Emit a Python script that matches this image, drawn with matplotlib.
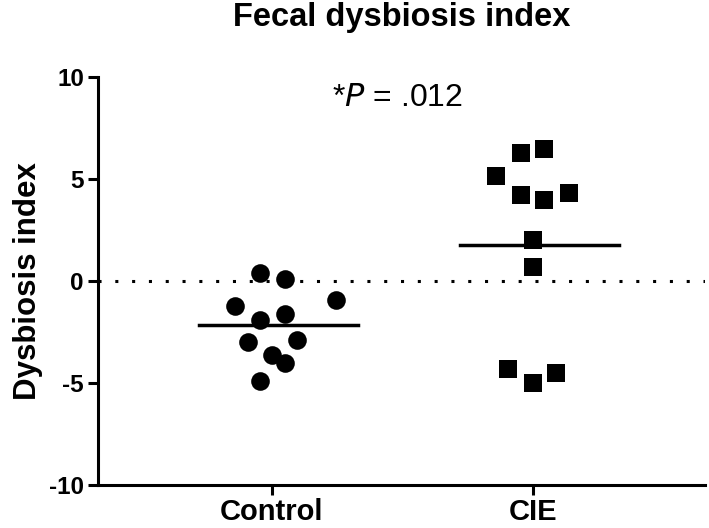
import matplotlib

matplotlib.use("Agg")
import matplotlib.pyplot as plt
import numpy as np

plt.rcParams["font.family"] = ["Liberation Sans", "DejaVu Sans"]

# ---------------------------------------------------------------------------
# Data
# ---------------------------------------------------------------------------
groups = ["Control", "CIE"]

control_vals = [0.4, 0.1, -1.2, -0.9, -1.9, -1.6, -3.0, -2.9, -3.6, -4.0, -4.9]
control_jitter = [-0.045, 0.05, -0.14, 0.245, -0.045, 0.05, -0.09, 0.095, 0.0, 0.05, -0.045]

cie_vals = [6.3, 6.5, 5.15, 4.2, 4.0, 4.3, 2.0, 0.7, -4.3, -5.0, -4.5]
cie_jitter = [-0.045, 0.045, -0.14, -0.045, 0.045, 0.14, 0.0, 0.0, -0.095, 0.0, 0.09]

p_text = "*$\\it{P}$ = .012"

fig = plt.figure(figsize=(7.09, 5.28), dpi=100)
ax = fig.add_axes([0.138, 0.081, 0.856, 0.773])

# zero reference line
ax.axhline(0, color="black", linestyle=(0, (1, 4.5)), linewidth=2.2, zorder=1)

ax.scatter(np.zeros(len(control_vals)) + np.array(control_jitter), control_vals,
           s=180, marker="o", color="black", zorder=3, linewidths=0)
ax.scatter(np.ones(len(cie_vals)) + np.array(cie_jitter), cie_vals,
           s=150, marker="s", color="black", zorder=3, linewidths=0)

# group means
for i, vals in enumerate([control_vals, cie_vals]):
    m = np.mean(vals)
    ax.plot([i - 0.28, i + 0.33], [m, m], color="black", linewidth=2.5, zorder=2)

ax.set_xlim(-0.667, 1.66)
ax.set_ylim(-10, 10)
ax.set_yticks([-10, -5, 0, 5, 10])
ax.set_yticklabels(["-10", "-5", "0", "5", "10"])
ax.set_xticks([0, 1])
ax.set_xticklabels(groups)

for side in ["top", "right"]:
    ax.spines[side].set_visible(False)
for side in ["left", "bottom"]:
    ax.spines[side].set_linewidth(2.2)

ax.tick_params(axis="both", width=2.2, length=7)
ax.tick_params(axis="y", labelsize=17.5, pad=3)
ax.tick_params(axis="x", labelsize=21, pad=2)
for lbl in ax.get_xticklabels() + ax.get_yticklabels():
    lbl.set_fontweight("bold")

ax.set_ylabel("Dysbiosis index", fontsize=22.5, fontweight="bold", labelpad=4)
ax.set_title("Fecal dysbiosis index", fontsize=23.5, fontweight="bold", pad=36.5)

ax.text(0.48, 8.6, p_text, fontsize=23, ha="center", va="baseline")

fig.savefig("out.png", dpi=100)
